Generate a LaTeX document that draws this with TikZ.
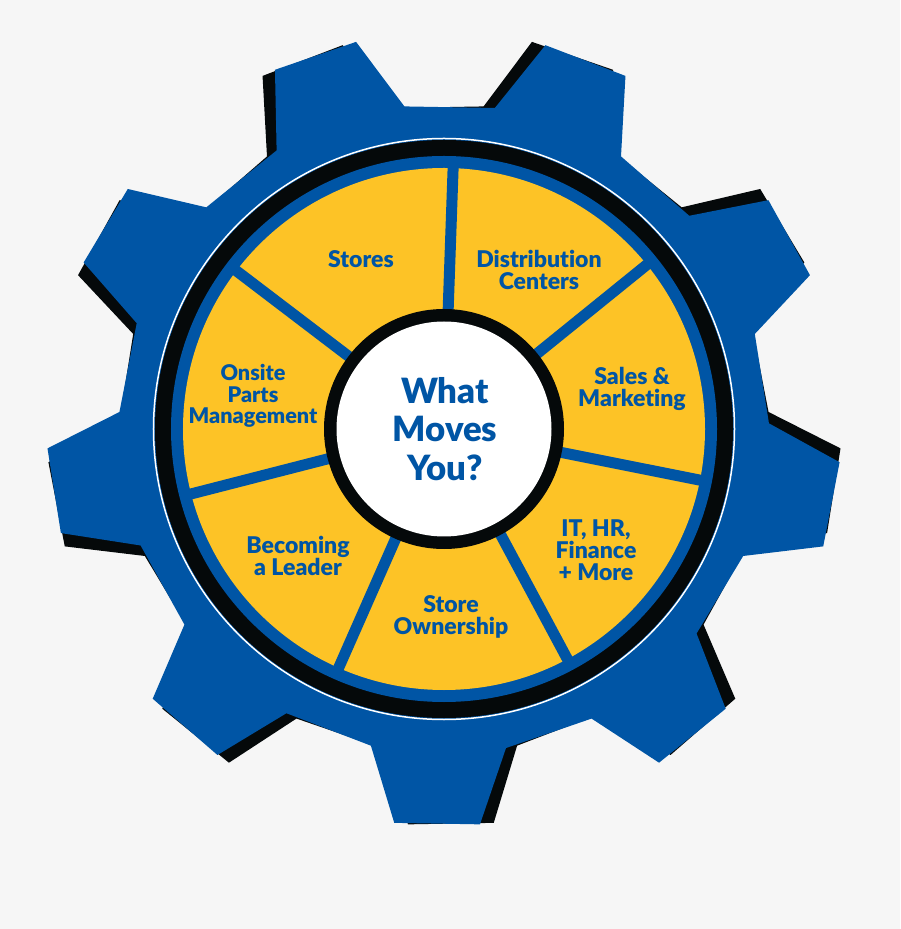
\documentclass[tikz,border=0pt]{standalone}
\usepackage{fontspec}
\setmainfont{Lato}[BoldFont={Lato Black}, Ligatures={NoCommon,NoRequired,NoContextual}]
\definecolor{gearblue}{RGB}{0,85,165}
\definecolor{segyellow}{RGB}{253,195,38}
\definecolor{ringblack}{RGB}{5,9,10}
\definecolor{paper}{RGB}{246,246,246}

\begin{document}
\begin{tikzpicture}[
    % GLOBAL CFG
    x=0.02cm, y=0.02cm,
    % Styles
    seglabel/.style={% Text of the yellow segments
        text=gearblue,
        font=\bfseries\fontsize{13.1}{12.4}\selectfont,
        align=center,
        inner sep=0pt,
        },
    hub/.style={% Text in the white centre
        text=gearblue,
        font=\bfseries\fontsize{19.8}{21.8}\selectfont,
        align=center,
        inner sep=0pt,
        },
    spoke/.style={% Blue bars between segments
        draw=gearblue,
        line width=0.22cm,
        },
    ]

    % Page with its margins
    \fill[paper] (-444,-500) rectangle (456,429);

    % Draw the gear: black copy turned a bit, then the blue one
    \fill[ringblack, rotate=2] (97:325)
        \foreach \a in {109,149,...,429} {
            -- ({\a-12}:325) -- ({\a-6.2}:397) -- ({\a+6.2}:397) -- ({\a+12}:325)
        } -- cycle;
    \fill[gearblue] (97:325)
        \foreach \a in {109,149,...,429} {
            -- ({\a-12}:325) -- ({\a-6.2}:397) -- ({\a+6.2}:397) -- ({\a+12}:325)
        } -- cycle;

    % Rings
    \draw[white, line width=0.03cm] (0,0) circle (290.5);
    \fill[ringblack] (0,0) circle (289);
    \fill[gearblue] (0,0) circle (273);
    \fill[segyellow] (0,0) circle (261);

    % Spokes
    \foreach \a in {88,39,-11.3,-61.8,-113.8,-165.6,142.7}
        \draw[spoke] (\a:110) -- (\a:263);

    % Hub
    \fill[ringblack] (0,0) circle (120);
    \fill[white] (0,0) circle (107.5);
    \node[hub] (moves) at (1,0) {What\\Moves\\You?};

    % Segment labels
    \node[seglabel] (stores) at (-83,170) {Stores};
    \node[seglabel] (distrib) at (95,159) {Distribution\\Centers};
    \node[seglabel] (sales) at (188,40) {Sales \&\\Marketing};
    \node[seglabel] (itfin) at (152,-121) {IT, HR,\\Finance\\+ More};
    \node[seglabel] (owner) at (7,-188) {Store\\Ownership};
    \node[seglabel] (leader) at (-146,-127) {Becoming\\a Leader};
    \node[seglabel, font=\bfseries\fontsize{12.3}{12.4}\selectfont] (onsite) at (-191,33) {Onsite\\Parts\\Management};

\end{tikzpicture}
\end{document}
